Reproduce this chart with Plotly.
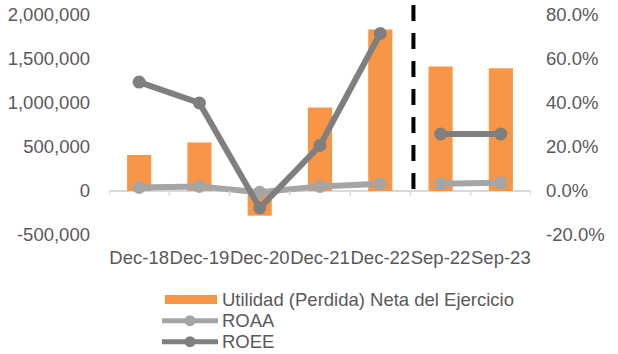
import plotly.graph_objects as go

# Periods: five year-end closes followed by two September interim cuts
categories = ["Dec-18", "Dec-19", "Dec-20", "Dec-21", "Dec-22", "Sep-22", "Sep-23"]
utilidad = [410000, 550000, -280000, 950000, 1835000, 1415000, 1395000]
roaa = [0.016, 0.021, -0.006, 0.021, 0.033, 0.033, 0.038]
roee = [0.495, 0.400, -0.077, 0.207, 0.716, 0.259, 0.259]

left_ticks = [-500000, 0, 500000, 1000000, 1500000, 2000000]
right_ticks = [-0.2, 0.0, 0.2, 0.4, 0.6, 0.8]

name_bar = "Utilidad (Perdida) Neta del Ejercicio"
name_roaa = "ROAA"
name_roee = "ROEE"

n_annual = 5  # year-end periods; the rest are interim

ORANGE = "#f79646"
LIGHT = "#a5a5a5"
DARK = "#7f7f7f"
TEXT = "#595959"
AXIS = "#d9d9d9"
FONT = "Arial, Liberation Sans, sans-serif"
FS = 18.5

W, H = 618, 354
L, R, T, B = 109, 87, 15, 119
PW, PH = W - L - R, H - T - B


def px_x(p):
    return (p - L) / PW


def px_y(p):
    return (H - B - p) / PH


fig = go.Figure()

fig.add_trace(go.Bar(
    x=categories, y=utilidad, name=name_bar,
    marker=dict(color=ORANGE, line=dict(width=0)),
    yaxis="y", showlegend=False,
))


def add_ratio(values, name, color):
    # year-end and interim periods are drawn as separate segments
    for xs, ys in ((categories[:n_annual], values[:n_annual]),
                   (categories[n_annual:], values[n_annual:])):
        fig.add_trace(go.Scatter(
            x=xs, y=ys, name=name, mode="lines+markers",
            line=dict(color=color, width=6),
            marker=dict(color=color, size=13),
            yaxis="y2", showlegend=False,
        ))


add_ratio(roaa, name_roaa, LIGHT)
add_ratio(roee, name_roee, DARK)

shapes = []
# category boundary ticks hanging from the zero line
for i in range(len(categories) + 1):
    shapes.append(dict(
        type="line", xref="x", yref="y", x0=i - 0.5, x1=i - 0.5,
        ysizemode="pixel", yanchor=0, y0=0, y1=-5,
        line=dict(color=AXIS, width=1.5),
    ))

# dashed separator between year-end and interim periods
shapes.append(dict(
    type="line", xref="x", yref="paper",
    x0=n_annual - 0.45, x1=n_annual - 0.45,
    y0=px_y(5), y1=px_y(190),
    line=dict(color="black", width=4, dash="16px,12px"),
))

# legend
shapes.append(dict(type="rect", xref="paper", yref="paper",
                   x0=px_x(165), x1=px_x(217), y0=px_y(304), y1=px_y(295),
                   fillcolor=ORANGE, line=dict(width=0)))
for yc, color in ((320.7, LIGHT), (341.7, DARK)):
    shapes.append(dict(type="line", xref="paper", yref="paper",
                       x0=px_x(162), x1=px_x(218), y0=px_y(yc), y1=px_y(yc),
                       line=dict(color=color, width=5)))
    shapes.append(dict(type="circle", xref="paper", yref="paper",
                       x0=px_x(184.5), x1=px_x(195.5),
                       y0=px_y(yc + 5.5), y1=px_y(yc - 5.5),
                       fillcolor=color, line=dict(width=0)))

annotations = []
for yc, label in ((299.3, name_bar), (320.7, name_roaa), (341.7, name_roee)):
    annotations.append(dict(
        xref="paper", yref="paper", x=px_x(220), y=px_y(yc),
        xanchor="left", yanchor="middle", showarrow=False, text=label,
        font=dict(family=FONT, size=FS, color=TEXT),
    ))

fig.update_layout(
    width=W, height=H,
    margin=dict(l=L, r=R, t=T, b=B, pad=0, autoexpand=False),
    paper_bgcolor="white", plot_bgcolor="white",
    font=dict(family=FONT, size=FS, color=TEXT),
    bargap=0.6,
    showlegend=False,
    xaxis=dict(
        type="category", categoryorder="array", categoryarray=categories,
        range=[-0.5, len(categories) - 0.5], showline=False, ticks="",
        showgrid=False, zeroline=False, tickangle=0, automargin=False,
        tickfont=dict(family=FONT, size=FS, color=TEXT),
        ticklabelstandoff=9,
    ),
    yaxis=dict(
        range=[left_ticks[0], left_ticks[-1]],
        tickvals=left_ticks, ticktext=[f"{v:,}" for v in left_ticks],
        showgrid=False, showline=False, ticks="", automargin=False,
        zeroline=True, zerolinecolor=AXIS, zerolinewidth=2,
        tickfont=dict(family=FONT, size=FS, color=TEXT),
        ticklabelstandoff=18,
    ),
    yaxis2=dict(
        overlaying="y", side="right",
        range=[right_ticks[0], right_ticks[-1]],
        tickvals=right_ticks, ticktext=[f"{v * 100:.1f}%" for v in right_ticks],
        showgrid=False, showline=False, ticks="", zeroline=False,
        automargin=False,
        tickfont=dict(family=FONT, size=FS, color=TEXT),
        ticklabelstandoff=14,
    ),
    shapes=shapes,
    annotations=annotations,
)

fig.write_html("out.html")
